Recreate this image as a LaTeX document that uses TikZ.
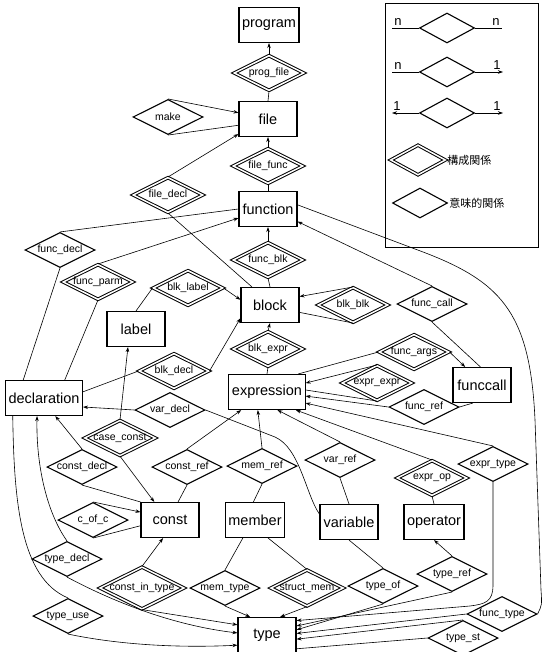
\documentclass[tikz,border=0pt]{standalone}
\usepackage{fontspec}
\setmainfont{Liberation Sans}
\newfontfamily\jpfont{Noto Sans CJK JP}
\usepackage{tikz}
\usetikzlibrary{shapes.geometric, arrows.meta}
\usetikzlibrary{calc}
\tikzstyle{entity} = [rectangle, minimum width=58pt, minimum height=35pt, inner sep=3pt, text centered, draw=black, line width=1.1pt, font=\fontsize{14.5}{16}\selectfont]
\tikzstyle{relation} = [diamond, aspect=2, minimum width=70pt, minimum height=35pt, inner sep=0pt, draw=black, line width=1.1pt, font=\fontsize{10.5}{12}\selectfont]
\tikzstyle{partrel} = [relation, double, double distance=1.5pt, line width=1pt]
\tikzstyle{legrel} = [diamond, aspect=2, minimum width=55pt, minimum height=30pt, inner sep=0pt, draw=black, line width=1.1pt]
\tikzstyle{legpart} = [legrel, double, double distance=1.5pt, line width=1pt]
\tikzstyle{legtext} = [inner sep=1pt, font=\fontsize{13}{14}\selectfont]
\tikzstyle{arrow} = [->,>={Stealth[length=5pt,width=3.5pt]}]
\tikzstyle{every path}=[line width=0.6pt]

\begin{document}
\begin{tikzpicture}[x=1pt,y=-1pt]
		\useasboundingbox (0,0) rectangle (542,652);
		% entities
		\node (program) [entity] at (269,25) {program};
		\node (file) [entity] at (268,119) {file};
		\node (function) [entity] at (268,209) {function};
		\node (block) [entity] at (270,305) {block};
		\node (label) [entity] at (136,329) {label};
		\node (expression) [entity] at (267,392) {expression};
		\node (funccall) [entity] at (482,385) {funccall};
		\node (declaration) [entity] at (44,398) {declaration};
		\node (const) [entity] at (170,520) {const};
		\node (member) [entity] at (255,520) {member};
		\node (variable) [entity] at (349,522) {variable};
		\node (operator) [entity] at (434,522) {operator};
		\node (type) [entity] at (267,635) {type};
		
		% relations
		\node (prog_file) [partrel] at (269,73) {prog\_file};
		\node (make) [relation] at (168,117) {make};
		\node (file_func) [partrel] at (268,166) {file\_func};
		\node (file_decl) [partrel] at (168,195) {file\_decl};
		\node (func_decl) [relation] at (60,250) {func\_decl};
		\node (func_parm) [partrel] at (98,282) {func\_parm};
		\node (func_blk) [partrel] at (268,260) {func\_blk};
		\node (blk_label) [partrel] at (188,288) {blk\_label};
		\node (blk_blk) [partrel] at (353,305) {blk\_blk};
		\node (func_call) [relation] at (432,304) {func\_call};
		\node (blk_expr) [partrel] at (268,349) {blk\_expr};
		\node (func_args) [partrel] at (414,352) {func\_args};
		\node (blk_decl) [partrel] at (174,371) {blk\_decl};
		\node (expr_expr) [partrel] at (377,383) {expr\_expr};
		\node (func_ref) [relation] at (424,407) {func\_ref};
		\node (var_decl) [relation] at (170,410) {var\_decl};
		\node (case_const) [partrel] at (120,438) {case\_const};
		\node (var_ref) [relation] at (340,460) {var\_ref};
		\node (expr_type) [relation] at (493,464) {expr\_type};
		\node (const_ref) [relation] at (187,467) {const\_ref};
		\node (mem_ref) [relation] at (262,466) {mem\_ref};
		\node (const_decl) [relation] at (82,467) {const\_decl};
		\node (expr_op) [partrel] at (432,478) {expr\_op};
		\node (c_of_c) [relation] at (93,520) {c\_of\_c};
		\node (type_decl) [relation] at (67,559) {type\_decl};
		\node (type_ref) [relation] at (452,574) {type\_ref};
		\node (type_of) [relation] at (383,586) {type\_of};
		\node (const_in_type) [partrel] at (142,588) {const\_in\_type};
		\node (mem_type) [relation] at (225,588) {mem\_type};
		\node (struct_mem) [partrel] at (307,588) {struct\_mem};
		\node (func_type) [relation] at (502,614) {func\_type};
		\node (type_use) [relation] at (68,616) {type\_use};
		\node (type_st) [relation] at (463,638) {type\_st};
		
		% connectors
		\draw [arrow](prog_file.north) -- (program.south);
		\draw (prog_file.south) -- (file.north);
		\draw [arrow](make.north) -- (file.168);
		\draw (make.south) -- (file.192);
		\draw [arrow](file_func.north) -- (file.south);
		\draw (file_func.south) -- (function.north);
		\draw [arrow](file_decl.north) -- (file.207);
		\draw (file_decl.south) -- (block.135);
		\draw (func_decl.north) -- (function.west);
		\draw (func_decl.south) -- (declaration.139);
		\draw [arrow](func_parm.north) -- (function.197);
		\draw (func_parm.south) -- (declaration.41);
		\draw [arrow](func_blk.north) -- (function.south);
		\draw (func_blk.south) -- (block.north);
		\draw [arrow](blk_label.east) -- (block.170);
		\draw (blk_label.west) -- (label.north);
		\draw [arrow](blk_blk.north) -- (block.16);
		\draw (blk_blk.south) -- (block.-14);
		\draw [arrow](func_call.north) -- (function.-23);
		\draw (func_call.south) -- (funccall.95);
		\draw [arrow](func_args.east) -- (funccall.133);
		\draw (func_args.west) -- (expression.30);
		\draw [arrow](blk_expr.north) -- (block.south);
		\draw (blk_expr.south) -- (expression.north);
		\draw [arrow](expr_expr.north) -- (expression.13);
		\draw (expr_expr.south) -- (expression.3);
		\draw [arrow](func_ref.west) -- (expression.-6);
		\draw (func_ref.east) -- (funccall.243);
		\draw [arrow](expr_type.north) -- (expression.-16);
		\draw [arrow](expr_type.south) -- (493,585) .. controls (493,602) and (485,604) .. (470,606) -- (type.26);
		\draw [arrow](expr_op.north) -- (expression.-32);
		\draw (expr_op.south) -- (operator.north);
		\draw [arrow](var_ref.north) -- (expression.-60);
		\draw (var_ref.south) -- (variable.north);
		\draw [arrow](mem_ref.north) -- (expression.-117);
		\draw (mem_ref.south) -- (member.95);
		\draw [arrow](const_ref.north) -- (expression.-145);
		\draw (const_ref.south) -- (const.66);
		\draw [arrow](blk_decl.east) -- (block.204);
		\draw (blk_decl.west) -- (declaration.9);
		\draw [arrow](var_decl.west) -- (declaration.-13);
		\draw (var_decl.east) -- (275,437) .. controls (300,448) and (306,495) .. (variable.165);
		\draw [arrow](case_const.north) -- (label.-114);
		\draw [arrow](case_const.south) -- (const.131);
		\draw [arrow](const_decl.north) -- (declaration.-58);
		\draw (const_decl.south) -- (const.north west);
		\draw [arrow](c_of_c.north) -- (const.165);
		\draw (c_of_c.south) -- (const.191);
		\draw [arrow](const_in_type.north) -- (const.-111);
		\draw [arrow](const_in_type.south) -- (type.161);
		\draw (mem_type.north) -- (member.-124);
		\draw [arrow](mem_type.south) -- (type.133);
		\draw (struct_mem.north) -- (member.-54);
		\draw [arrow](struct_mem.south) -- (type.54);
		\draw (type_of.north) -- (variable.south);
		\draw [arrow](type_of.south) -- (type.10);
		\draw [arrow](type_ref.north) -- (operator.south);
		\draw [arrow](type_ref.south) -- (type.17);
		\draw [arrow](func_type.west) -- (type.3);
		\draw (func_type.east) .. controls (542,605) .. (541,590) -- (535,420) .. controls (530,310) and (500,280) .. (415,249) -- (function.8);
		\draw [arrow](type_st.north) -- (type.-8);
		\draw (type_st.west) -- (type.-25);
		\draw [arrow](type_decl.north) .. controls (45,510) and (36,460) .. (declaration.-111);
		\draw [arrow](type_decl.south) .. controls (110,600) and (170,625) .. (type.176);
		\draw (declaration.-150) .. controls (14,500) and (20,578) .. (type_use.north);
		\draw [arrow](type_use.south) .. controls (120,645) and (180,648) .. (type.-161);
		
		% legend
		\draw [line width=0.8pt] (385,3) rectangle (538,247);
		\node (lg1) [legrel] at (447,28) {};
		\node (lg2) [legrel] at (447,72) {};
		\node (lg3) [legrel] at (447,113) {};
		\node (lg4) [legpart] at (418,160) {};
		\node (lg5) [legrel] at (420,203) {};
		\coordinate (lg1a) at (392,28);
		\coordinate (lg1b) at (502,28);
		\coordinate (lg2a) at (392,72);
		\coordinate (lg2b) at (503,72);
		\coordinate (lg3a) at (392,113);
		\coordinate (lg3b) at (503,113);
		\draw (lg1a) -- (lg1.west);
		\draw (lg1.east) -- (lg1b);
		\draw (lg2a) -- (lg2.west);
		\draw [arrow](lg2.east) -- (lg2b);
		\draw [arrow](lg3.west) -- (lg3a);
		\draw [arrow](lg3.east) -- (lg3b);
		\node (lg1n) [legtext, anchor=south] at (398,27) {n};
		\node (lg1m) [legtext, anchor=south] at (496,27) {n};
		\node (lg2n) [legtext, anchor=south] at (398,71) {n};
		\node (lg2m) [legtext, anchor=south] at (497,71) {1};
		\node (lg3n) [legtext, anchor=south] at (397,112) {1};
		\node (lg3m) [legtext, anchor=south] at (497,112) {1};
		\node (lg4t) [anchor=west, inner sep=1pt, font=\jpfont\fontsize{11}{12}\selectfont] at (446,160) {構成関係};
		\node (lg5t) [anchor=west, inner sep=1pt, font=\jpfont\fontsize{11}{12}\selectfont] at (448,203) {意味的関係};
\end{tikzpicture}
\end{document}
